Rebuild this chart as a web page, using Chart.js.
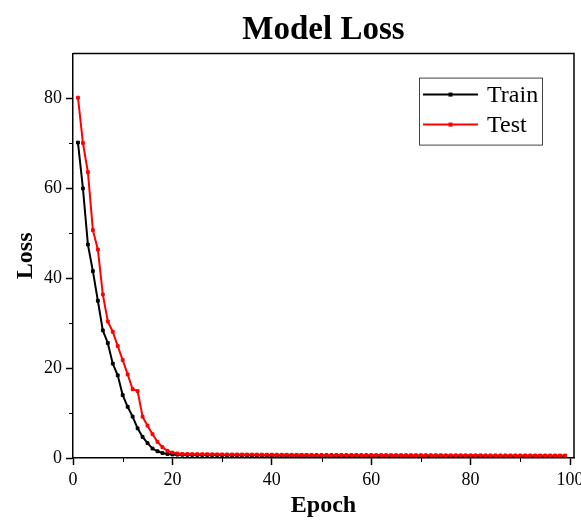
<!DOCTYPE html>
<html>
<head>
<meta charset="utf-8">
<title>Model Loss</title>
<script src="https://cdn.jsdelivr.net/npm/chart.js@4.4.1/dist/chart.umd.min.js"></script>
<style>
    html, body { margin: 0; padding: 0; background: #fff; }
    #wrap { width: 581px; height: 520px; }
</style>
</head>
<body>
<div id="wrap"><canvas id="lossChart" width="581" height="520"></canvas></div>
<script>
    const seriesNames = ["Train", "Test"];
    const seriesColors = ["#000000", "#ff0000"];

    // loss per epoch, starting at epoch 1
    const trainLoss = [
        70.2, 60.0, 47.5, 41.6, 35.0, 28.4, 25.6, 21.0, 18.4, 14.0,
        11.4, 9.2, 6.6, 4.7, 3.3, 2.1, 1.5, 1.1, 0.9, 0.8,
        0.75, 0.72, 0.70, 0.69, 0.68, 0.67, 0.66, 0.65, 0.65, 0.64,
        0.63, 0.63, 0.62, 0.61, 0.61, 0.60, 0.60, 0.59, 0.58, 0.58,
        0.57, 0.57, 0.56, 0.56, 0.55, 0.55, 0.55, 0.54, 0.54, 0.53,
        0.53, 0.53, 0.52, 0.52, 0.52, 0.51, 0.51, 0.51, 0.50, 0.50,
        0.50, 0.50, 0.49, 0.49, 0.49, 0.49, 0.48, 0.48, 0.48, 0.48,
        0.48, 0.47, 0.47, 0.47, 0.47, 0.47, 0.46, 0.46, 0.46, 0.46,
        0.46, 0.46, 0.46, 0.45, 0.45, 0.45, 0.45, 0.45, 0.45, 0.45,
        0.45, 0.44, 0.44, 0.44, 0.44, 0.44, 0.44, 0.44, 0.44
    ];
    const testLoss = [
        80.2, 70.1, 63.6, 50.7, 46.4, 36.4, 30.4, 28.1, 24.9, 21.8,
        18.6, 15.3, 14.9, 9.2, 7.2, 5.3, 3.6, 2.4, 1.6, 1.2,
        1.0, 0.9, 0.88, 0.86, 0.85, 0.84, 0.83, 0.82, 0.81, 0.80,
        0.79, 0.78, 0.78, 0.77, 0.76, 0.76, 0.75, 0.74, 0.74, 0.73,
        0.73, 0.72, 0.72, 0.71, 0.71, 0.70, 0.70, 0.69, 0.69, 0.68,
        0.68, 0.68, 0.67, 0.67, 0.66, 0.66, 0.66, 0.65, 0.65, 0.65,
        0.64, 0.64, 0.64, 0.63, 0.63, 0.63, 0.62, 0.62, 0.62, 0.62,
        0.61, 0.61, 0.61, 0.61, 0.60, 0.60, 0.60, 0.60, 0.59, 0.59,
        0.59, 0.59, 0.58, 0.58, 0.58, 0.58, 0.58, 0.57, 0.57, 0.57,
        0.57, 0.57, 0.56, 0.56, 0.56, 0.56, 0.56, 0.55, 0.55
    ];
    const epochs = trainLoss.map((_, i) => i + 1);

    const xTicks = [0, 20, 40, 60, 80, 100];
    const xMinorTicks = [10, 30, 50, 70, 90];
    const yTicks = [0, 20, 40, 60, 80];
    const yMinorTicks = [10, 30, 50, 70];

    const serif = "'Liberation Serif', 'Times New Roman', serif";
    Chart.defaults.font.family = serif;
    Chart.defaults.color = "#000";

    /* рамка сверху/справа + короткие промежуточные засечки */
    const framePlugin = {
        id: "frame",
        afterDraw(chart) {
            const { ctx, chartArea: a, scales } = chart;
            ctx.save();
            ctx.strokeStyle = "#000";
            ctx.lineWidth = 1.5;
            ctx.beginPath();
            ctx.moveTo(a.left, a.top);
            ctx.lineTo(a.right, a.top);
            ctx.lineTo(a.right, a.bottom);
            ctx.stroke();

            ctx.lineWidth = 1;
            ctx.beginPath();
            xMinorTicks.forEach(v => {
                const px = Math.round(scales.x.getPixelForValue(v)) + 0.5;
                ctx.moveTo(px, a.bottom);
                ctx.lineTo(px, a.bottom + 4);
            });
            yMinorTicks.forEach(v => {
                const py = Math.round(scales.y.getPixelForValue(v)) + 0.5;
                ctx.moveTo(a.left, py);
                ctx.lineTo(a.left - 4, py);
            });
            ctx.stroke();
            ctx.restore();
        }
    };

    /* легенда внутри области графика */
    const boxLegend = {
        id: "boxLegend",
        afterDraw(chart) {
            const { ctx, chartArea: a } = chart;
            const sets = chart.data.datasets;
            const left = a.right - 155, top = a.top + 24;
            const w = 123, rowH = 30;
            const h = 12 + rowH * sets.length - 5;
            ctx.save();
            ctx.strokeStyle = "#444";
            ctx.lineWidth = 1;
            ctx.strokeRect(left + 0.5, top + 0.5, w, h);
            ctx.font = "24px " + serif;
            ctx.textBaseline = "middle";
            sets.forEach((ds, i) => {
                const y = top + 17 + i * rowH;
                ctx.strokeStyle = ds.borderColor;
                ctx.lineWidth = 2;
                ctx.beginPath();
                ctx.moveTo(left + 4, y);
                ctx.lineTo(left + 59, y);
                ctx.stroke();
                ctx.fillStyle = ds.borderColor;
                ctx.fillRect(left + 29.5, y - 2, 4, 4);
                ctx.fillStyle = "#000";
                ctx.fillText(ds.label, left + 68, y + 1);
            });
            ctx.restore();
        }
    };

    new Chart(document.getElementById("lossChart"), {
        type: "line",
        plugins: [framePlugin, boxLegend],
        data: {
            datasets: [trainLoss, testLoss].map((vals, i) => ({
                label: seriesNames[i],
                data: vals.map((v, k) => ({ x: epochs[k], y: v })),
                borderColor: seriesColors[i],
                backgroundColor: seriesColors[i],
                borderWidth: 2,
                pointStyle: "rect",
                pointRadius: 2,
                pointBorderWidth: 1,
                pointBorderColor: seriesColors[i],
                pointBackgroundColor: seriesColors[i],
                tension: 0,
                order: i === 0 ? 1 : 0
            }))
        },
        options: {
            responsive: false,
            animation: false,
            layout: { padding: { left: 0, right: 7, top: 0, bottom: 0 } },
            plugins: {
                legend: { display: false },
                tooltip: { enabled: false },
                title: {
                    display: true,
                    text: "Model Loss",
                    fullSize: false,
                    color: "#000",
                    font: { size: 33, weight: "bold", family: serif },
                    padding: { top: 11, bottom: 3 }
                }
            },
            scales: {
                x: {
                    type: "linear",
                    min: 0,
                    max: 100.8,
                    afterBuildTicks: s => { s.ticks = xTicks.map(v => ({ value: v })); },
                    afterFit: s => { s.height = 62; s.paddingLeft = 0; s.paddingRight = 0; },
                    grid: { drawOnChartArea: false, drawTicks: true, tickLength: 7, color: "#000", tickWidth: 1.5 },
                    border: { display: true, color: "#000", width: 1.5 },
                    ticks: { font: { size: 18 }, color: "#000", padding: 4, maxRotation: 0 },
                    title: {
                        display: true,
                        text: "Epoch",
                        color: "#000",
                        font: { size: 24, weight: "bold", family: serif },
                        padding: { top: 0, bottom: 0 }
                    }
                },
                y: {
                    min: 0,
                    max: 90,
                    afterBuildTicks: s => { s.ticks = yTicks.map(v => ({ value: v })); },
                    afterFit: s => { s.width = 73; s.paddingTop = 0; s.paddingBottom = 0; },
                    grid: { drawOnChartArea: false, drawTicks: true, tickLength: 7, color: "#000", tickWidth: 1.5 },
                    border: { display: true, color: "#000", width: 1.5 },
                    ticks: { font: { size: 18 }, color: "#000", padding: 4 },
                    title: {
                        display: true,
                        text: "Loss",
                        color: "#000",
                        font: { size: 24, weight: "bold", family: serif },
                        padding: { top: 11, bottom: 0 }
                    }
                }
            }
        }
    });
</script>
</body>
</html>
